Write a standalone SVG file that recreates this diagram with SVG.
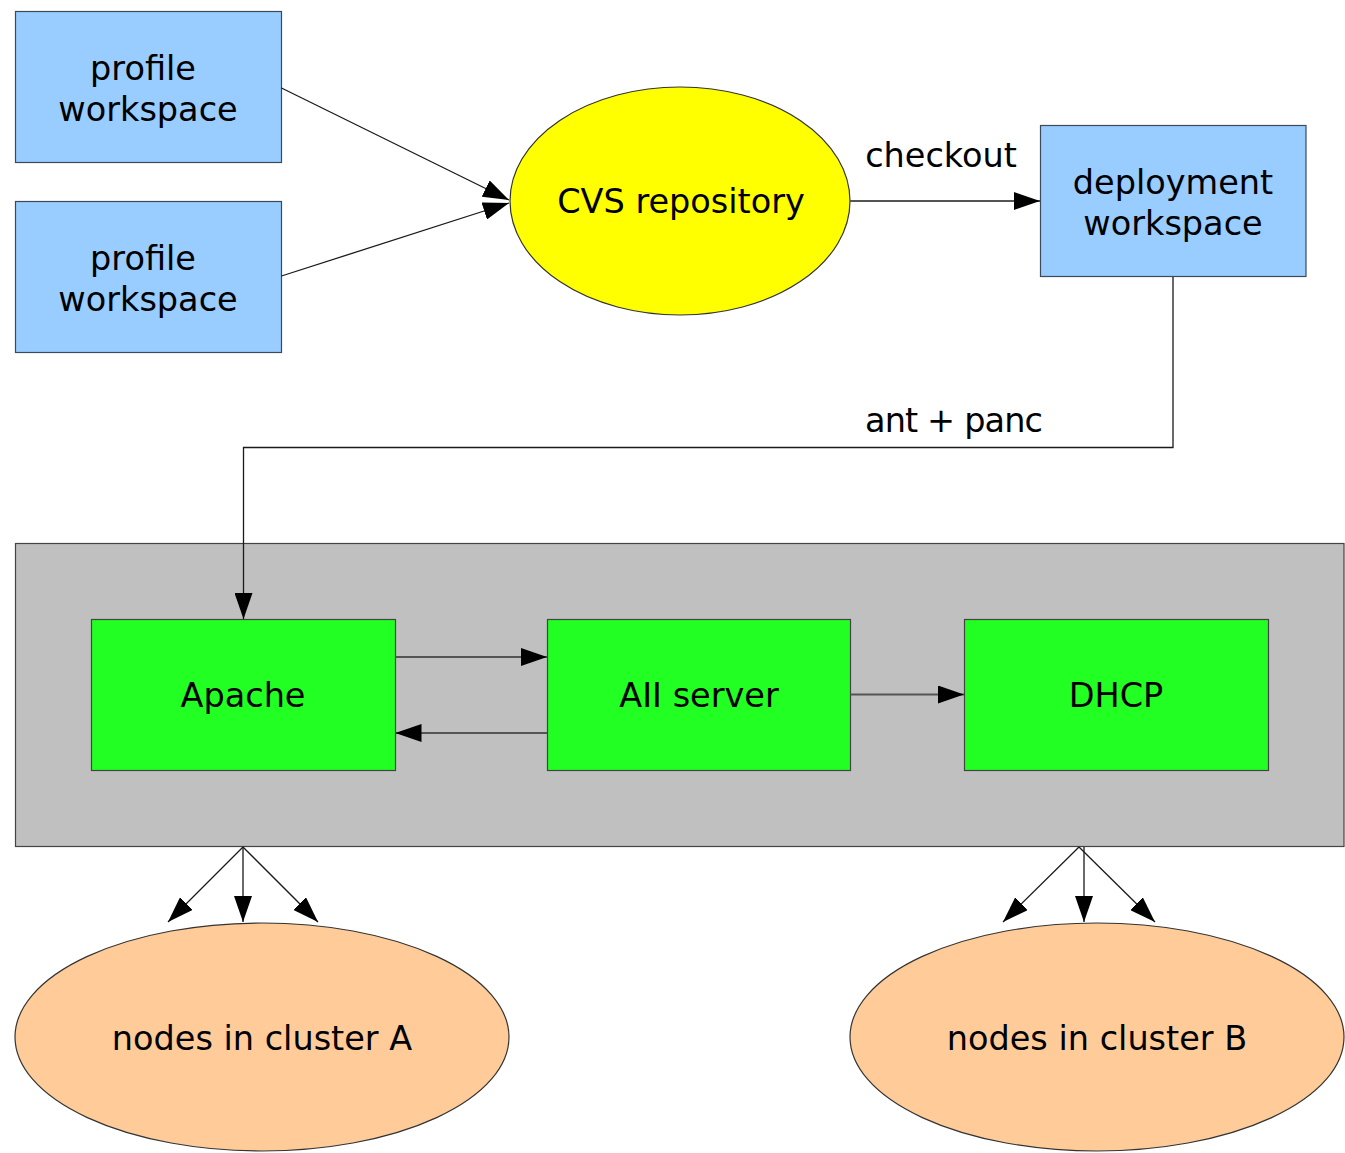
<svg xmlns="http://www.w3.org/2000/svg" width="1345" height="1153" viewBox="0 0 1345 1153">
<defs>
<style>
text{font-family:"DejaVu Sans","Liberation Sans",sans-serif;font-size:33.5px;fill:#000;text-anchor:middle}
.blue{fill:#99ccff;stroke:#3a4a5a;stroke-width:1.2}
.green{fill:#22ff22;stroke:#444;stroke-width:1.2}
.con{fill:none;stroke:#1a1a1a;stroke-width:1.3}
.con2{fill:none;stroke:#555;stroke-width:1.8}
</style>
<marker id="ah" viewBox="0 0 26 18" refX="26" refY="9" markerWidth="26" markerHeight="18" markerUnits="userSpaceOnUse" orient="auto">
<path d="M0,0 L26,9 L0,18 Z" fill="#000"/>
</marker>
</defs>
<rect width="1345" height="1153" fill="#fff"/>
<g id="cluster-box"><rect x="15.5" y="543.5" width="1328.5" height="303" fill="#c0c0c0" stroke="#444" stroke-width="1.2"/></g>
<g id="profile1"><rect class="blue" x="15.5" y="11.5" width="266" height="151"/><text x="143" y="80">profile</text><text x="148" y="121">workspace</text></g>
<g id="profile2"><rect class="blue" x="15.5" y="201.5" width="266" height="151"/><text x="143" y="270">profile</text><text x="148" y="311">workspace</text></g>
<g id="cvs"><ellipse cx="680" cy="201" rx="170" ry="114" fill="#ffff00" stroke="#333" stroke-width="1.2"/><text x="681" y="213">CVS repository</text></g>
<g id="deploy"><rect class="blue" x="1040.5" y="125.5" width="265.5" height="151"/><text x="1173" y="194">deployment</text><text x="1173" y="235">workspace</text></g>
<g id="apache"><rect class="green" x="91.5" y="619.5" width="304" height="151"/><text x="243" y="707">Apache</text></g>
<g id="aii"><rect class="green" x="547.5" y="619.5" width="303" height="151"/><text x="699" y="707">AII server</text></g>
<g id="dhcp"><rect class="green" x="964.5" y="619.5" width="304" height="151"/><text x="1116" y="707">DHCP</text></g>
<g id="nodesA"><ellipse cx="262" cy="1037" rx="247" ry="114" fill="#ffcc99" stroke="#333" stroke-width="1.2"/><text x="262" y="1050">nodes in cluster A</text></g>
<g id="nodesB"><ellipse cx="1097" cy="1037" rx="247" ry="114" fill="#ffcc99" stroke="#333" stroke-width="1.2"/><text x="1097" y="1050">nodes in cluster B</text></g>
<g id="connectors">
<path class="con" d="M281.5,88 L509,200" marker-end="url(#ah)"/>
<path class="con" d="M281.5,276 L509,203" marker-end="url(#ah)"/>
<path class="con2" d="M850,201 L1040,201" marker-end="url(#ah)"/>
<text x="941" y="167">checkout</text>
<path class="con" d="M1173,277 L1173,447.5 L243.5,447.5 L243.5,619" marker-end="url(#ah)"/>
<text x="954" y="432" textLength="178" lengthAdjust="spacing">ant + panc</text>
<path class="con2" d="M395.5,657 L547,657" marker-end="url(#ah)"/>
<path class="con2" d="M547,733 L395.5,733" marker-end="url(#ah)"/>
<path class="con2" d="M850.5,694.5 L964,694.5" marker-end="url(#ah)"/>
<path class="con" d="M243,847 L168,922" marker-end="url(#ah)"/>
<path class="con" d="M243,847 L243,922" marker-end="url(#ah)"/>
<path class="con" d="M243,847 L318,922" marker-end="url(#ah)"/>
<path class="con" d="M1079,847 L1003,922" marker-end="url(#ah)"/>
<path class="con" d="M1084,847 L1084,922" marker-end="url(#ah)"/>
<path class="con" d="M1079,847 L1155,922" marker-end="url(#ah)"/>
</g>
</svg>
